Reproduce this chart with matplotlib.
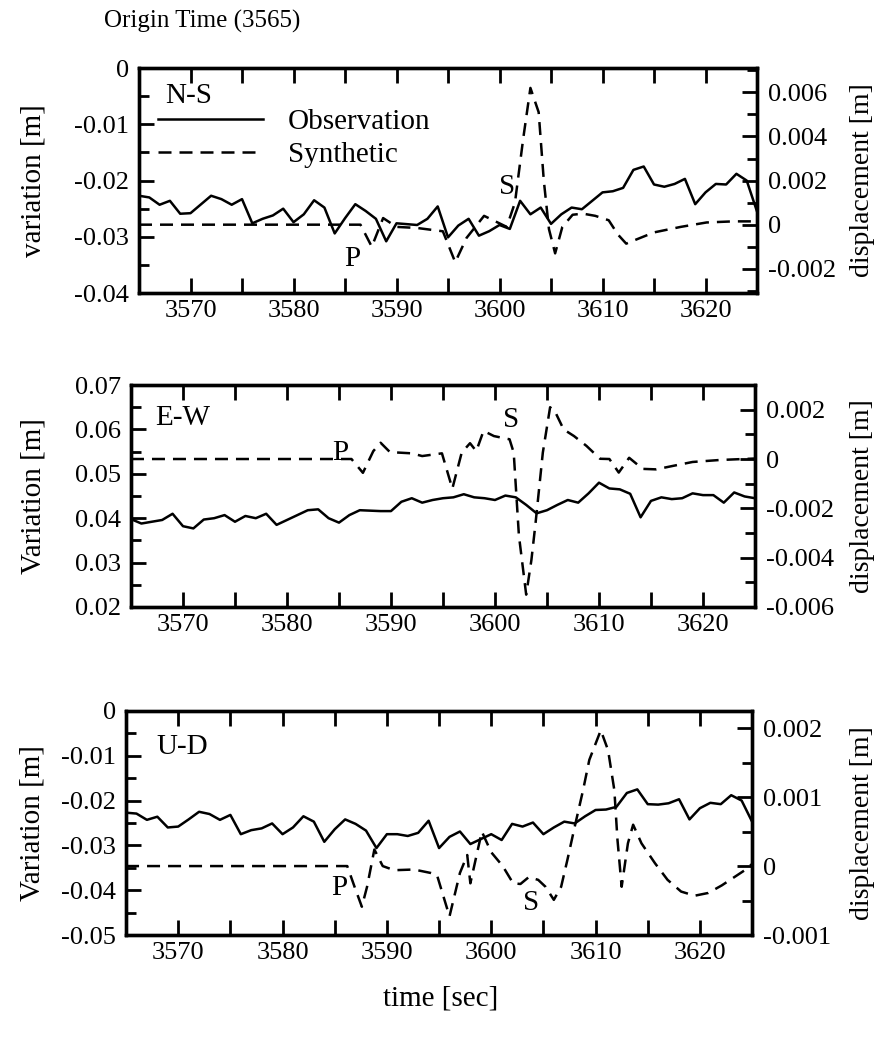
import matplotlib
matplotlib.use('Agg')
import matplotlib.pyplot as plt
from matplotlib.lines import Line2D
from matplotlib.ticker import MultipleLocator, FuncFormatter

plt.rcParams['font.family'] = ['Liberation Serif', 'DejaVu Serif']

# N-S component
nsObsTime = [3565, 3566, 3567, 3568, 3569, 3570, 3572, 3573, 3574, 3575, 3576, 3577, 3578, 3579,
             3580, 3581, 3582, 3583, 3584, 3585, 3586, 3587, 3588, 3589, 3590, 3592, 3593, 3594,
             3595, 3596, 3597, 3598, 3599, 3600, 3601, 3602, 3603, 3604, 3605, 3606, 3607, 3608,
             3609, 3610, 3611, 3612, 3613, 3614, 3615, 3616, 3617, 3618, 3619, 3620, 3621, 3622,
             3623, 3624, 3625]
nsObs = [-0.0227, -0.0230, -0.0243, -0.0236, -0.0259, -0.0258, -0.0227, -0.0233, -0.0243, -0.0233,
         -0.0276, -0.0268, -0.0262, -0.0250, -0.0274, -0.0260, -0.0235, -0.0248, -0.0294, -0.0267,
         -0.0242, -0.0254, -0.0268, -0.0308, -0.0276, -0.0279, -0.0268, -0.0246, -0.0301, -0.0280,
         -0.0268, -0.0298, -0.0290, -0.0279, -0.0286, -0.0236, -0.0260, -0.0248, -0.0277, -0.0260,
         -0.0248, -0.0251, -0.0236, -0.0221, -0.0219, -0.0213, -0.0181, -0.0175, -0.0207, -0.0211,
         -0.0206, -0.0197, -0.0242, -0.0221, -0.0206, -0.0207, -0.0188, -0.0200, -0.0255]
nsSynTime = [3565, 3586.5, 3587.6, 3588.7, 3590, 3592, 3594.5, 3595.7, 3596.8, 3598.5, 3599.6,
             3600.7, 3601.5, 3602.3, 3603, 3603.8, 3604.3, 3604.8, 3605.4, 3606.1, 3607.1, 3608.1,
             3609.3, 3610.6, 3611.5, 3612.3, 3613.4, 3615, 3617.6, 3620.1, 3622.7, 3625]
nsSyn = [0, 0, -0.0010, 0.0003, -0.0001, -0.00015, -0.0003, -0.0017, -0.0006, 0.0004, 0.00015,
         -0.0001, 0.0010, 0.0039, 0.0062, 0.0051, 0.0020, -0.0002, -0.0013, -0.0001, 0.00045, 0.0005,
         0.0004, 0.0002, -0.00045, -0.00086, -0.00065, -0.00035, -0.0001, 0.0001, 0.00015, 0.00015]

# E-W component
ewObsTime = [3565, 3566, 3568, 3569, 3570, 3571, 3572, 3573, 3574, 3575, 3576, 3577, 3578, 3579,
             3580, 3581, 3582, 3583, 3584, 3585, 3586, 3587, 3589, 3590, 3591, 3592, 3593, 3594,
             3595, 3596, 3597, 3598, 3599, 3600, 3601, 3602, 3603, 3604, 3605, 3606, 3607, 3608,
             3609, 3610, 3611, 3612, 3613, 3614, 3615, 3616, 3617, 3618, 3619, 3620, 3621, 3622,
             3623, 3624, 3625]
ewObs = [0.0398, 0.0388, 0.0396, 0.0410, 0.0382, 0.0377, 0.0397, 0.0400, 0.0407, 0.0392, 0.0405,
         0.0400, 0.0410, 0.0385, 0.0396, 0.0407, 0.0418, 0.0420, 0.0400, 0.0390, 0.0407, 0.0418,
         0.0416, 0.0416, 0.0437, 0.0445, 0.0435, 0.0441, 0.0445, 0.0447, 0.0454, 0.0447, 0.0445,
         0.0441, 0.0451, 0.0447, 0.0430, 0.0411, 0.0418, 0.0430, 0.0441, 0.0435, 0.0456, 0.0480,
         0.0467, 0.0465, 0.0455, 0.0402, 0.0439, 0.0447, 0.0443, 0.0445, 0.0456, 0.0452, 0.0452,
         0.0435, 0.0458, 0.0449, 0.0445]
ewSynTime = [3565, 3586.2, 3587.3, 3588.3, 3589, 3589.9, 3592, 3593, 3594.9, 3595.9, 3596.8,
             3597.6, 3598.2, 3598.9, 3599.9, 3601.4, 3601.8, 3602.3, 3603.0, 3603.5, 3603.9, 3604.6,
             3605.3, 3605.8, 3606.6, 3607.6, 3608.8, 3610.1, 3611, 3611.9, 3612.9, 3614.2, 3615.5,
             3617.1, 3619, 3621.6, 3625]
ewSyn = [0, 0, -0.00056, 0.00032, 0.00066, 0.00028, 0.00023, 0.00012, 0.00023, -0.0012, 0.00026,
         0.00064, 0.00032, 0.00114, 0.00093, 0.0008, 0.00026, -0.0031, -0.0055, -0.0041, -0.0026,
         0.00026, 0.0021, 0.0019, 0.0012, 0.00093, 0.00053, 0.00001, 0, -0.00055, 0.00005, -0.0004,
         -0.00042, -0.00028, -0.00012, -0.00004, 0.00002]

# U-D component
udObsTime = list(range(3565, 3626))
udObs = [-0.0227, -0.0229, -0.0243, -0.0236, -0.0260, -0.0258, -0.0242, -0.0225, -0.0230, -0.0243,
         -0.0232, -0.0275, -0.0266, -0.0262, -0.0251, -0.0275, -0.0260, -0.0235, -0.0247, -0.0292,
         -0.0264, -0.0242, -0.0252, -0.0267, -0.0306, -0.0275, -0.0275, -0.0279, -0.0272, -0.0245,
         -0.0306, -0.0281, -0.0269, -0.0297, -0.0286, -0.0275, -0.0288, -0.0252, -0.0258, -0.0249,
         -0.0275, -0.0260, -0.0247, -0.0251, -0.0235, -0.0221, -0.0220, -0.0214, -0.0183, -0.0175,
         -0.0208, -0.0209, -0.0206, -0.0197, -0.0242, -0.0217, -0.0205, -0.0208, -0.0188, -0.0200,
         -0.0247]
udSynTime = [3565, 3586.2, 3586.9, 3587.6, 3588.1, 3588.8, 3589.6, 3590.7, 3592.6, 3594.2, 3594.8,
             3596, 3597, 3597.7, 3598, 3598.6, 3599.1, 3600, 3601.1, 3602.1, 3602.8, 3603.6, 3604.5,
             3605.2, 3606, 3606.7, 3607.3, 3608, 3608.8, 3609.4, 3610.5, 3611.2, 3611.8, 3612.1,
             3612.5, 3613.1, 3613.6, 3614.4, 3615.7, 3616.9, 3618.2, 3619.5, 3620.8, 3622.1, 3623.3,
             3624.3, 3625]
udSyn = [0, 0, -0.0003, -0.00059, -0.0003, 0.00024, 0, -0.00006, -0.00005, -0.0001, -0.00013,
         -0.00073, -0.0001, 0.00016, -0.00025, 0.00016, 0.0005, 0.0002, 0, -0.00025, -0.00026,
         -0.00016, -0.0002, -0.0003, -0.00049, -0.0003, 0.00009, 0.00057, 0.0011, 0.00154, 0.00197,
         0.00168, 0.0011, 0.00038, -0.0003, 0.00033, 0.0006, 0.00033, 0.00004, -0.0002, -0.00037,
         -0.00043, -0.00039, -0.00028, -0.00016, -0.00006, 0.00003]

TICK_SIZE = 19
LABEL_SIZE = 21
DASHES = (5.2, 3.2)


def fmt(v, pos):
  s = '%g' % round(v, 6)
  return '0' if s in ('0', '-0') else s


def styleAxis(ax, tickLen=11):
  for spine in ax.spines.values():
    spine.set_linewidth(2.4)
  ax.tick_params(which='both', direction='in', width=2.0, labelsize=TICK_SIZE)
  ax.tick_params(which='major', length=tickLen)
  ax.tick_params(which='minor', length=7)


def drawPanel(rect, obsT, obs, synT, syn, leftLim, leftStep, rightLim, rightStep,
              leftLabel, name, nameXY, labelX, pPos, sPos, showLegend=False):
  ax = fig.add_axes(rect)
  ax.plot(obsT, obs, color='black', lw=1.8)
  ax.set_xlim(3565, 3625)
  ax.set_ylim(*leftLim)
  ax.xaxis.set_major_locator(MultipleLocator(10))
  ax.xaxis.set_minor_locator(MultipleLocator(5))
  ax.yaxis.set_major_locator(MultipleLocator(leftStep))
  ax.yaxis.set_minor_locator(MultipleLocator(leftStep / 2))
  ax.yaxis.set_major_formatter(FuncFormatter(fmt))
  ax.xaxis.set_ticks_position('both')
  styleAxis(ax)
  ax.tick_params(axis='x', which='minor', length=11)
  ax.tick_params(axis='x', pad=5)
  ax.tick_params(axis='y', pad=7)
  ax.set_ylabel(leftLabel, fontsize=LABEL_SIZE)
  ax.yaxis.set_label_coords(labelX[0], 0.5)

  ax2 = ax.twinx()
  ax2.plot(synT, syn, color='black', lw=1.8, dashes=DASHES)
  ax2.set_ylim(*rightLim)
  ax2.yaxis.set_major_locator(MultipleLocator(rightStep))
  ax2.yaxis.set_minor_locator(MultipleLocator(rightStep / 2))
  ax2.yaxis.set_major_formatter(FuncFormatter(fmt))
  styleAxis(ax2)
  ax2.tick_params(axis='y', pad=8)
  ax2.set_ylabel('displacement [m]', fontsize=20)
  ax2.yaxis.set_label_coords(labelX[1], 0.5)

  ax2.text(nameXY[0], nameXY[1], name, transform=ax.transAxes, fontsize=LABEL_SIZE,
           ha='left', va='center')
  ax2.text(pPos[0], pPos[1], 'P', transform=ax.transData, fontsize=LABEL_SIZE,
           ha='center', va='center')
  ax2.text(sPos[0], sPos[1], 'S', transform=ax.transData, fontsize=LABEL_SIZE,
           ha='center', va='center')

  if showLegend:
    handles = [Line2D([], [], color='black', lw=1.8),
               Line2D([], [], color='black', lw=1.8, dashes=DASHES)]
    ax2.legend(handles, ['Observation', 'Synthetic'], loc='upper left',
               bbox_to_anchor=(0.031, 0.82), frameon=False, fontsize=LABEL_SIZE,
               handlelength=3.6, handletextpad=0.85, labelspacing=0.22,
               borderpad=0, borderaxespad=0)
  return ax


fig = plt.figure(figsize=(8.82, 10.44), dpi=100)

drawPanel([0.1576, 0.7193, 0.7007, 0.2155], nsObsTime, nsObs, nsSynTime, nsSyn,
          (-0.04, 0), 0.01, (-0.0031, 0.0071), 0.002,
          'variation [m]', 'N-S', (0.042, 0.875), (-0.150, 1.150),
          (3585.7, -0.0339), (3600.7, -0.0211), showLegend=True)

drawPanel([0.1485, 0.4186, 0.7075, 0.2126], ewObsTime, ewObs, ewSynTime, ewSyn,
          (0.02, 0.07), 0.01, (-0.006, 0.003), 0.002,
          'Variation [m]', 'E-W', (0.038, 0.85), (-0.136, 1.152),
          (3585.1, 0.0547), (3601.5, 0.0621))

drawPanel([0.1429, 0.1044, 0.7098, 0.2146], udObsTime, udObs, udSynTime, udSyn,
          (-0.05, 0), 0.01, (-0.001, 0.00225), 0.001,
          'Variation [m]', 'U-D', (0.049, 0.84), (-0.128, 1.157),
          (3585.4, -0.0395), (3603.8, -0.0428))

fig.text(0.118, 0.979, 'Origin Time (3565)', fontsize=18, ha='left', va='center')
fig.text(0.5, 0.044, 'time [sec]', fontsize=LABEL_SIZE, ha='center', va='center')

fig.savefig('out.png', dpi=100)
plt.close(fig)
